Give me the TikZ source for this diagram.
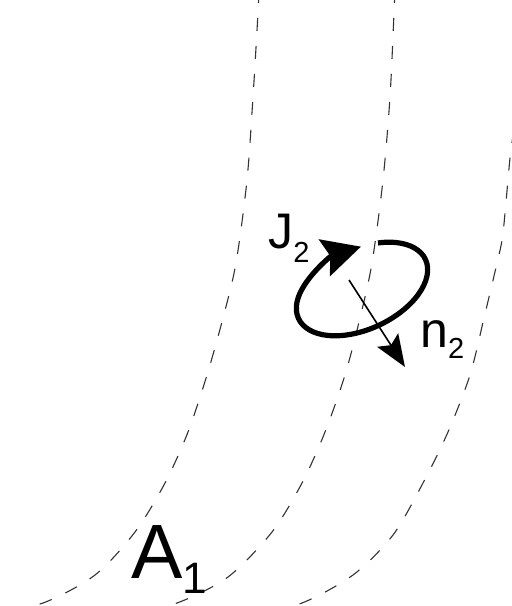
\documentclass[tikz,border=0pt]{standalone}
\usepackage{fontspec}
\setmainfont{Liberation Sans}
\usetikzlibrary{arrows.meta}
\newcommand{\lowsub}[3]{\raisebox{-#1}{\fontsize{#2}{#2}\selectfont #3}}

\begin{document}
\begin{tikzpicture}[
x=0.5pt, y=-0.5pt,
flux/.style = {draw=black!80, line width=0.55pt,
               dash pattern=on 6.5pt off 7.5pt},
spin/.style = {line width=2.6pt,
               -{Stealth[length=19pt, width=19pt, inset=3pt]}},
normal/.style = {line width=0.8pt,
               -{Stealth[length=16pt, width=12.5pt, inset=3pt]}},
lbl/.style = {inner sep=0, anchor=base west}
                ]
\useasboundingbox (0,0) rectangle (512,606);
\clip (0,0) rectangle (512,606);
%% flux lines
\draw[flux] plot[smooth] coordinates {(259,-10) (258,13) (253,97) (247,180)
  (236,263) (223,318) (207,375) (188,432) (165,483) (135,532) (95,575)
  (43,603) (-10,613)};
\draw[flux] plot[smooth] coordinates {(395,-10) (394,13) (390,97) (383,180)
  (372,263) (360,318) (345,375) (325,432) (302,483) (272,532) (228,577)
  (177,603) (130,613)};
\draw[flux] plot[smooth] coordinates {(514,130) (510,158) (503,233)
  (497,263) (484,318) (470,375) (448,432) (423,483) (393,535) (353,575)
  (302,603) (255,613)};
%% current loop
\begin{scope}[shift={(362,289)}, rotate=25]
\draw[spin] (-61:70 and 40) arc[start angle=-61, end angle=284,
                                x radius=70, y radius=40];
\end{scope}
\coordinate (ntail) at (349,280);
\coordinate (nhead) at (405,367);
\draw[normal] (ntail) -- (nhead);
%% labels
\node (J2) [lbl, font=\fontsize{25}{25}\selectfont] at (268,248)
      {J\lowsub{7pt}{14.5}{2}};
\node (n2) [lbl, font=\fontsize{25}{25}\selectfont] at (420,347)
      {n\lowsub{5.5pt}{14.5}{2}};
\node (A1) [lbl, font=\fontsize{38.5}{38.5}\selectfont] at (131,578)
      {A\lowsub{7.5pt}{22}{1}};
\end{tikzpicture}
\end{document}
